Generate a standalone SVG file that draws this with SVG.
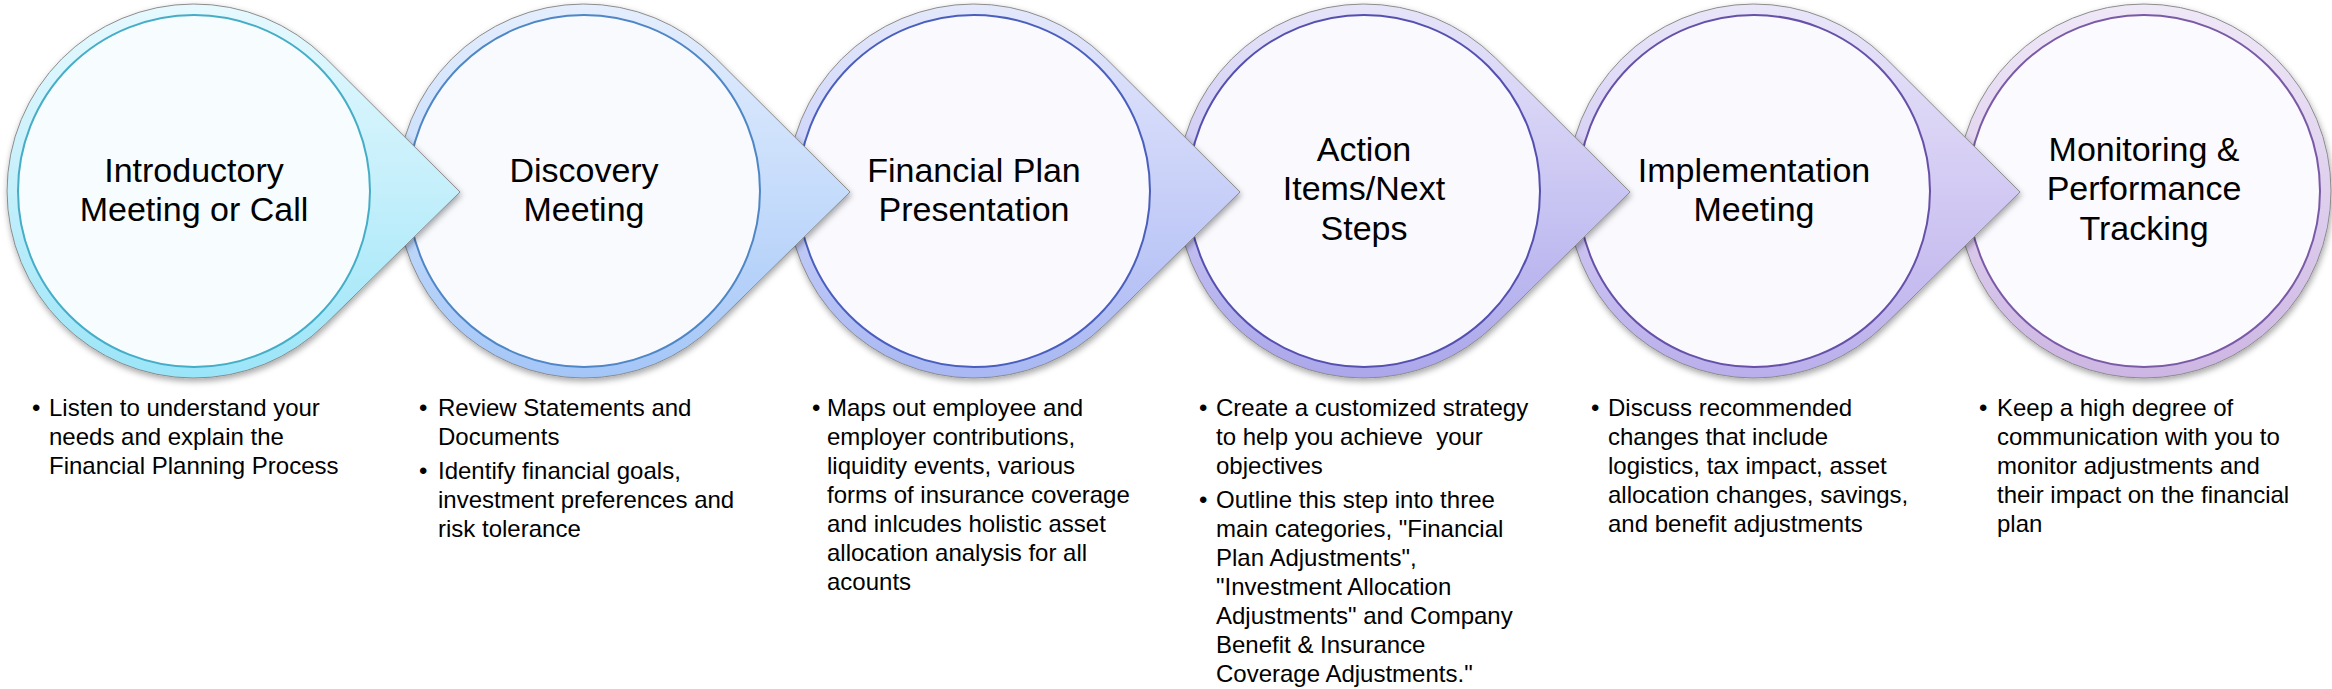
<svg xmlns="http://www.w3.org/2000/svg" width="2332" height="689" viewBox="0 0 2332 689">
<defs>
<filter id="sh" x="-10%" y="-10%" width="125%" height="125%">
<feDropShadow dx="1" dy="3" stdDeviation="3" flood-color="#000" flood-opacity="0.35"/>
</filter>
<linearGradient id="g1" x1="0" y1="0" x2="0" y2="1"><stop offset="0" stop-color="#e6f9fe"/><stop offset="0.5" stop-color="#c4effb"/><stop offset="1" stop-color="#9be5f8"/></linearGradient>
<linearGradient id="g2" x1="0" y1="0" x2="0" y2="1"><stop offset="0" stop-color="#e4eefd"/><stop offset="0.5" stop-color="#c6dcfb"/><stop offset="1" stop-color="#a4c6f7"/></linearGradient>
<linearGradient id="g3" x1="0" y1="0" x2="0" y2="1"><stop offset="0" stop-color="#e4e8fb"/><stop offset="0.5" stop-color="#c8d0f8"/><stop offset="1" stop-color="#a9b8f3"/></linearGradient>
<linearGradient id="g4" x1="0" y1="0" x2="0" y2="1"><stop offset="0" stop-color="#e6e4f9"/><stop offset="0.5" stop-color="#cac6f3"/><stop offset="1" stop-color="#aba7ea"/></linearGradient>
<linearGradient id="g5" x1="0" y1="0" x2="0" y2="1"><stop offset="0" stop-color="#e9e6f9"/><stop offset="0.5" stop-color="#d2caf3"/><stop offset="1" stop-color="#baafeb"/></linearGradient>
<linearGradient id="g6" x1="0" y1="0" x2="0" y2="1"><stop offset="0" stop-color="#efe8f7"/><stop offset="0.5" stop-color="#dfd0ee"/><stop offset="1" stop-color="#cdb6e3"/></linearGradient>
</defs>
<style>
.outer{stroke:#8c8c8c;stroke-width:1;filter:url(#sh)}
.inner{stroke-width:2}
.title{font-family:"Liberation Sans",Arial,sans-serif;font-size:34px;fill:#000;text-anchor:middle}
.body{font-family:"Liberation Sans",Arial,sans-serif;font-size:24px;fill:#000;white-space:pre}
</style>

<g id="connectors"></g>

<g id="step6">
<circle class="outer" cx="2144" cy="191" r="187" fill="url(#g6)"/>
<circle class="inner" cx="2144" cy="191" r="176" fill="#fbfafe" stroke="#7a5aa6"/>
<text class="title"><tspan x="2144" y="161">Monitoring &amp;</tspan><tspan x="2144" y="200">Performance</tspan><tspan x="2144" y="240">Tracking</tspan></text>
<text class="body"><tspan x="1979" y="416">•</tspan><tspan x="1997" y="416">Keep a high degree of</tspan><tspan x="1997" y="445">communication with you to</tspan><tspan x="1997" y="474">monitor adjustments and</tspan><tspan x="1997" y="503">their impact on the financial</tspan><tspan x="1997" y="532">plan</tspan></text>
</g>

<g id="step5">
<path class="outer" d="M1885.5,58 L2020,192 L1885.5,324 A187,187 0 1 1 1885.5,58 Z" fill="url(#g5)"/>
<circle class="inner" cx="1754" cy="191" r="176" fill="#faf9fe" stroke="#6650a8"/>
<text class="title"><tspan x="1754" y="182">Implementation</tspan><tspan x="1754" y="221">Meeting</tspan></text>
<text class="body"><tspan x="1591" y="416">•</tspan><tspan x="1608" y="416">Discuss recommended</tspan><tspan x="1608" y="445">changes that include</tspan><tspan x="1608" y="474">logistics, tax impact, asset</tspan><tspan x="1608" y="503">allocation changes, savings,</tspan><tspan x="1608" y="532">and benefit adjustments</tspan></text>
</g>

<g id="step4">
<path class="outer" d="M1495.5,58 L1630,192 L1495.5,324 A187,187 0 1 1 1495.5,58 Z" fill="url(#g4)"/>
<circle class="inner" cx="1364" cy="191" r="176" fill="#f9f9fe" stroke="#5550b0"/>
<text class="title"><tspan x="1364" y="161">Action</tspan><tspan x="1364" y="200">Items/Next</tspan><tspan x="1364" y="240">Steps</tspan></text>
<text class="body"><tspan x="1199" y="416">•</tspan><tspan x="1216" y="416">Create a customized strategy</tspan><tspan x="1216" y="445">to help you achieve  your</tspan><tspan x="1216" y="474">objectives</tspan><tspan x="1199" y="508">•</tspan><tspan x="1216" y="508">Outline this step into three</tspan><tspan x="1216" y="537">main categories, "Financial</tspan><tspan x="1216" y="566">Plan Adjustments",</tspan><tspan x="1216" y="595">"Investment Allocation</tspan><tspan x="1216" y="624">Adjustments" and Company</tspan><tspan x="1216" y="653">Benefit &amp; Insurance</tspan><tspan x="1216" y="682">Coverage Adjustments."</tspan></text>
</g>

<g id="step3">
<path class="outer" d="M1105.5,58 L1240,192 L1105.5,324 A187,187 0 1 1 1105.5,58 Z" fill="url(#g3)"/>
<circle class="inner" cx="974" cy="191" r="176" fill="#f9f9fe" stroke="#4a5fbd"/>
<text class="title"><tspan x="974" y="182">Financial Plan</tspan><tspan x="974" y="221">Presentation</tspan></text>
<text class="body"><tspan x="812" y="416">•</tspan><tspan x="827" y="416">Maps out employee and</tspan><tspan x="827" y="445">employer contributions,</tspan><tspan x="827" y="474">liquidity events, various</tspan><tspan x="827" y="503">forms of insurance coverage</tspan><tspan x="827" y="532">and inlcudes holistic asset</tspan><tspan x="827" y="561">allocation analysis for all</tspan><tspan x="827" y="590">acounts</tspan></text>
</g>

<g id="step2">
<path class="outer" d="M715.5,58 L850,192 L715.5,324 A187,187 0 1 1 715.5,58 Z" fill="url(#g2)"/>
<circle class="inner" cx="584" cy="191" r="176" fill="#f8fafe" stroke="#4f86c6"/>
<text class="title"><tspan x="584" y="182">Discovery</tspan><tspan x="584" y="221">Meeting</tspan></text>
<text class="body"><tspan x="419" y="416">•</tspan><tspan x="438" y="416">Review Statements and</tspan><tspan x="438" y="445">Documents</tspan><tspan x="419" y="479">•</tspan><tspan x="438" y="479">Identify financial goals,</tspan><tspan x="438" y="508">investment preferences and</tspan><tspan x="438" y="537">risk tolerance</tspan></text>
</g>

<g id="step1">
<path class="outer" d="M325.5,58 L460,192 L325.5,324 A187,187 0 1 1 325.5,58 Z" fill="url(#g1)"/>
<circle class="inner" cx="194" cy="191" r="176" fill="#f7fcfe" stroke="#45adc6"/>
<text class="title"><tspan x="194" y="182">Introductory</tspan><tspan x="194" y="221">Meeting or Call</tspan></text>
<text class="body"><tspan x="32" y="416">•</tspan><tspan x="49" y="416">Listen to understand your</tspan><tspan x="49" y="445">needs and explain the</tspan><tspan x="49" y="474">Financial Planning Process</tspan></text>
</g>
</svg>
